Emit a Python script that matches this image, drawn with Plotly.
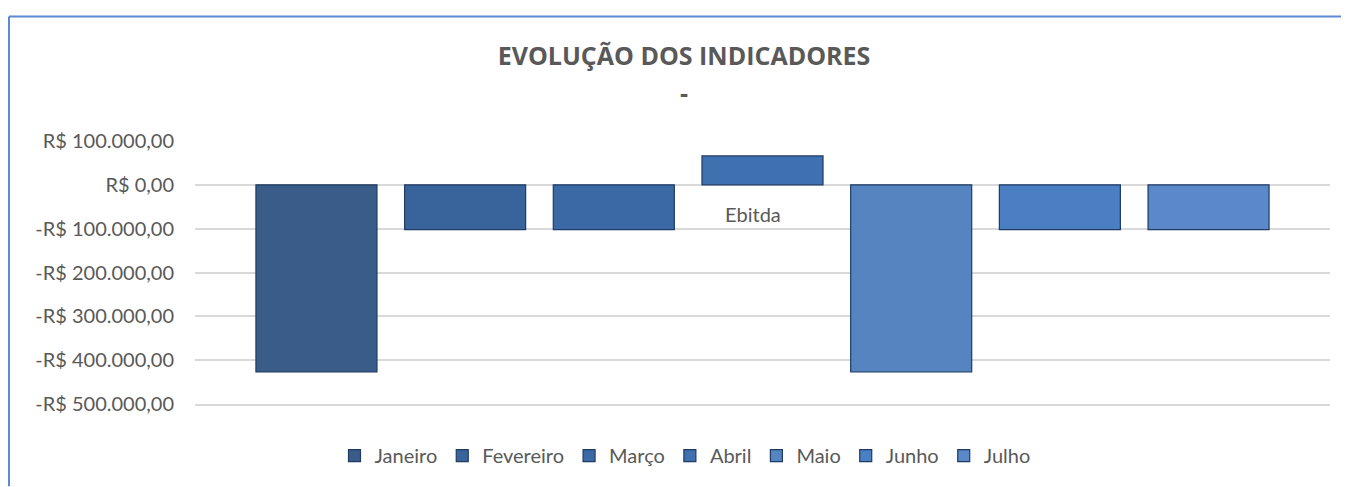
import plotly.graph_objects as go

categories = ["Ebitda"]
series_names = ["Janeiro", "Fevereiro", "Março", "Abril", "Maio", "Junho", "Julho"]
series_values = [-427000, -102000, -102000, 66000, -427000, -102000, -102000]
series_colors = ["#3a5c88", "#38639b", "#3b69a6", "#3f70b0", "#5584c1", "#4a7fc4", "#5a88c8"]
tick_vals = [100000, 0, -100000, -200000, -300000, -400000, -500000]
tick_text = ["R$ 100.000,00", "R$ 0,00", "-R$ 100.000,00", "-R$ 200.000,00",
             "-R$ 300.000,00", "-R$ 400.000,00", "-R$ 500.000,00"]

FONT = "Lato"
GRAY = "#595959"

# figure occupies page x 8..1349, y 8..487 (body margin 8px)
W, H = 1341, 479
L, R, T, B = 187, 19, 133, 81
PW, PH = W - L - R, H - T - B


def px(xf):  # figure px -> paper x
    return (xf - L) / PW


def py(yf):  # figure px -> paper y
    return 1 - (yf - T) / PH


fig = go.Figure()
for name, val, col in zip(series_names, series_values, series_colors):
    fig.add_trace(go.Bar(
        x=categories, y=[val], name=name,
        marker=dict(color=col, line=dict(color="#1f3b63", width=1.2)),
    ))

fig.update_layout(
    width=W, height=H,
    margin=dict(l=L, r=R, t=T, b=B),
    paper_bgcolor="white", plot_bgcolor="white",
    barmode="group", bargap=0.083, bargroupgap=0.186,
    font=dict(family=FONT, color=GRAY, size=20),
    title=dict(text="<b>EVOLUÇÃO DOS INDICADORES</b>", x=(684 - 8) / W, xanchor="center",
               xref="container", y=1 - (56 - 8) / H, yref="container", yanchor="middle",
               font=dict(family="Open Sans", size=25, color=GRAY)),
    showlegend=True,
    legend=dict(orientation="h", x=px(685 - 8), xanchor="center",
                y=py(458 - 8), yanchor="middle",
                font=dict(family=FONT, size=20, color=GRAY),
                itemwidth=30, tracegroupgap=0),
    xaxis=dict(showticklabels=False, showgrid=False, zeroline=False,
               showline=True, linecolor="#d9d9d9", linewidth=1.5),
    yaxis=dict(range=[-500000, 100000], tickvals=tick_vals, ticktext=tick_text,
               showgrid=True, gridcolor="#d9d9d9", gridwidth=1.5,
               zeroline=True, zerolinecolor="#d9d9d9", zerolinewidth=1.5,
               showline=False, ticks="", ticklabelstandoff=20,
               tickfont=dict(family=FONT, size=20, color=GRAY)),
)

fig.add_annotation(text="<b>-</b>", x=px(684 - 8), xref="paper", y=py(92 - 8), yref="paper",
                   yanchor="middle", showarrow=False,
                   font=dict(family="Open Sans", size=25, color=GRAY))

fig.add_annotation(text="Ebitda", x="Ebitda", y=0, xref="x", yref="y", yanchor="top",
                   yshift=-15, xshift=-10, showarrow=False,
                   font=dict(family=FONT, size=20, color=GRAY))

# chart frame
fig.add_shape(type="line", xref="paper", yref="paper",
              x0=px(1), x1=px(W + 2), y0=py(7.5), y1=py(7.5),
              line=dict(color="#5b8bd0", width=2))
fig.add_shape(type="line", xref="paper", yref="paper",
              x0=px(1), x1=px(1), y0=py(7.5), y1=py(H + 2),
              line=dict(color="#5b8bd0", width=2))

fig.write_html("out.html")
